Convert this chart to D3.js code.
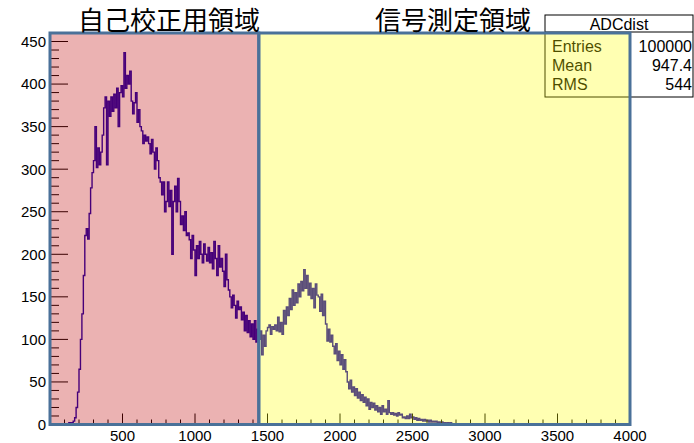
<!DOCTYPE html>
<meta charset="utf-8">
<style>
body { margin: 0; background: #fff; }
text { font-family: "Liberation Sans", Arial, sans-serif; }
.title { font-family: "Noto Sans CJK JP", sans-serif; font-size: 26px; }
.tick-label { font-size: 15px; }
.stats text { font-size: 16px; }
</style>
<svg width="694" height="443"></svg>
<script src="https://d3js.org/d3.v7.min.js"></script>
<script>

// ADC histogram, 10 channels per bin, starting at 0
var binWidth = 10;
var counts = [
  0,0,0,0,0,0,0,0,0,0,
  0,1,0,2,1,2,4,8,20,38,
  65,100,130,175,222,230,218,248,278,296,
  310,350,302,325,305,320,340,372,385,305,
  380,362,385,368,388,372,395,350,390,398,
  385,437,395,410,400,415,380,365,378,390,
  355,370,350,345,330,340,333,338,330,318,
  335,320,300,325,310,290,285,270,285,250,
  262,285,256,275,200,262,280,250,289,262,
  235,245,228,250,222,225,217,195,222,205,
  175,210,195,215,200,190,212,200,192,208,
  190,202,183,215,195,175,210,185,195,180,
  162,200,170,158,150,137,152,140,125,145,
  135,138,123,132,110,128,108,122,103,118,
  100,122,97,112,100,110,82,105,92,110,
  114,117,106,115,112,117,110,126,109,120,
  106,134,118,138,128,148,135,158,140,155,
  143,165,150,168,157,182,160,175,152,166,
  148,160,137,165,152,150,133,153,128,145,
  118,98,112,97,105,92,83,95,75,86,
  70,82,65,76,62,50,42,52,38,44,
  34,42,31,38,28,35,26,32,22,30,
  18,26,20,25,17,22,15,20,12,22,
  15,18,12,28,14,12,14,11,13,10,
  14,11,12,8,9,7,10,7,12,8,
  9,6,8,5,7,5,6,4,6,4,
  5,3,5,3,4,3,4,2,3,2,
  3,2,2,1,2,1,2,1,1,1,
  1,0,1,0,1,0,0,1,0,0,
  0,1,0,0,0,0,1,0,0,0
];

var xTicks = [500, 1000, 1500, 2000, 2500, 3000, 3500, 4000];
var yTicks = [0, 50, 100, 150, 200, 250, 300, 350, 400, 450];
var regionLabels = ["自己校正用領域", "信号測定領域"];
var regionEdges = [0, 1440, 4000];
var statNames = ["Entries", "Mean", "RMS"];
var statValues = ["100000", "947.4", "544"];
var histName = "ADCdist";

var svg = d3.select("svg");
var x = d3.scaleLinear().domain([0, 4000]).range([50, 630]);
var y = d3.scaleLinear().domain([0, 460]).range([424.5, 33]);

// histogram steps
var pts = counts.map(function(c, i) { return [i * binWidth, c]; });
pts.push([counts.length * binWidth, counts[counts.length - 1]]);
var line = d3.line()
    .x(function(d) { return x(d[0]); })
    .y(function(d) { return y(d[1]); })
    .curve(d3.curveStepAfter);
svg.append("path")
    .attr("d", line(pts))
    .attr("fill", "none")
    .attr("stroke", "#1400ae")
    .attr("stroke-width", 1.4);

// ticks (ROOT style, inside frame)
var g = svg.append("g").attr("stroke", "#000").attr("stroke-width", 1);
d3.range(0, 461, 10).forEach(function(v) {
  var major = v % 50 === 0;
  g.append("line").attr("x1", x(0)).attr("x2", x(0) + (major ? 18 : 9))
    .attr("y1", y(v)).attr("y2", y(v));
});
d3.range(100, 4000, 100).forEach(function(v) {
  var major = v % 500 === 0;
  g.append("line").attr("x1", x(v)).attr("x2", x(v))
    .attr("y1", y(0)).attr("y2", y(0) - (major ? 11 : 5));
});

svg.selectAll(".ylab").data(yTicks).enter().append("text")
    .attr("class", "tick-label")
    .attr("x", 46).attr("y", function(d) { return y(d); })
    .attr("dy", "0.36em").attr("text-anchor", "end")
    .text(function(d) { return d; });
svg.selectAll(".xlab").data(xTicks).enter().append("text")
    .attr("class", "tick-label")
    .attr("x", function(d) { return x(d); }).attr("y", 441)
    .attr("text-anchor", "middle")
    .text(function(d) { return d; });

// stats box
var st = svg.append("g").attr("class", "stats");
st.append("rect").attr("x", 545).attr("y", 15).attr("width", 148).attr("height", 82)
    .attr("fill", "#fff").attr("stroke", "#000");
st.append("line").attr("x1", 545).attr("x2", 693).attr("y1", 32).attr("y2", 32).attr("stroke", "#000");
st.append("text").attr("x", 619).attr("y", 30).attr("text-anchor", "middle").text(histName);
statNames.forEach(function(n, i) {
  st.append("text").attr("x", 552).attr("y", 52 + i * 19).text(n);
  st.append("text").attr("x", 692).attr("y", 52 + i * 19).attr("text-anchor", "end").text(statValues[i]);
});

// region boxes
var fills = ["rgba(188,0,0,0.3)", "rgba(255,255,0,0.3)"];
[0, 1].forEach(function(i) {
  svg.append("rect")
    .attr("x", x(regionEdges[i])).attr("y", y(460))
    .attr("width", x(regionEdges[i + 1]) - x(regionEdges[i]))
    .attr("height", y(0) - y(460))
    .attr("fill", fills[i]);
});
[0, 1].forEach(function(i) {
  svg.append("rect")
    .attr("x", x(regionEdges[i])).attr("y", y(460))
    .attr("width", x(regionEdges[i + 1]) - x(regionEdges[i]))
    .attr("height", y(0) - y(460))
    .attr("fill", "none").attr("stroke", "#4a7199").attr("stroke-width", 3);
});

svg.append("text").attr("class", "title").attr("x", 78).attr("y", 30).text(regionLabels[0]);
svg.append("text").attr("class", "title").attr("x", 375).attr("y", 30).text(regionLabels[1]);
</script>
